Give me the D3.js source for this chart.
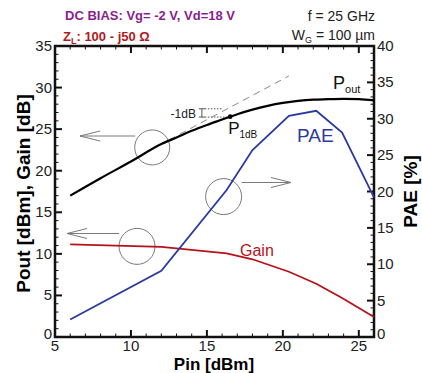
<!DOCTYPE html>
<html>
<head>
<meta charset="utf-8">
<script src="https://cdn.jsdelivr.net/npm/d3@7"></script>
<style>
  body { margin: 0; background: #fff; }
  svg { display: block; font-family: "Liberation Sans", Arial, sans-serif; }
</style>
</head>
<body>
<svg id="chart" width="422" height="373"></svg>
<script>
// Pout (smooth curve), dBm
const poutPin = [6, 8, 10, 12, 13, 14, 15, 16, 17, 18, 19, 20, 21, 22, 23, 24, 25, 26];
const poutVal = [17.0, 19.1, 21.1, 23.2, 24.0, 24.8, 25.5, 26.15, 26.8, 27.35, 27.8, 28.15, 28.4, 28.55, 28.6, 28.65, 28.6, 28.45];

// measured points for PAE and Gain
const pin = [6, 12, 16.3, 18, 20.4, 22.2, 23.9, 26];
const pae = [2.4, 9.1, 20.2, 25.7, 30.4, 31.1, 28.1, 19.2];
const gain = [11.15, 10.85, 10.05, 9.35, 7.85, 6.4, 4.7, 2.4];

// linear extrapolation (dashed) and compression point
const linPin = [12.5, 20.4];
const linPout = [23.7, 31.4];
const p1dB = { pin: 16.53, pout: 26.5 };

const xTicks = [5, 10, 15, 20, 25];
const yLeftTicks = [0, 5, 10, 15, 20, 25, 30, 35];
const yRightTicks = [0, 5, 10, 15, 20, 25, 30, 35, 40];

const svg = d3.select("#chart");
const m = { left: 55, right: 374, top: 46, bottom: 337 };

const x = d3.scaleLinear().domain([5, 26]).range([m.left, m.right]);
const yL = d3.scaleLinear().domain([0, 35]).range([m.bottom, m.top]);
const yR = d3.scaleLinear().domain([0, 40]).range([m.bottom, m.top]);

const ink = "#111";
const grey = "#7a7a7a";

// ticks drawn inward
function ticks(g, axis, scale, minorStep, major) {
    const [a, b] = scale.domain();
    const minors = d3.range(Math.ceil(a), b + 0.001, minorStep);
    g.selectAll(null).data(minors).join("line")
        .attr("stroke", ink).attr("stroke-width", 1)
        .each(function (v) {
            const isMajor = major.includes(v);
            const len = isMajor ? 7 : 3.5;
            const p = scale(v);
            const s = d3.select(this);
            if (axis === "bottom") s.attr("x1", p).attr("x2", p).attr("y1", m.bottom).attr("y2", m.bottom - len).attr("stroke-width", isMajor ? 2 : 1);
            if (axis === "top") s.attr("x1", p).attr("x2", p).attr("y1", m.top).attr("y2", m.top + len).attr("stroke-width", isMajor ? 2 : 1);
            if (axis === "left") s.attr("y1", p).attr("y2", p).attr("x1", m.left).attr("x2", m.left + len).attr("stroke-width", isMajor ? 2 : 1);
            if (axis === "right") s.attr("y1", p).attr("y2", p).attr("x1", m.right).attr("x2", m.right - len).attr("stroke-width", isMajor ? 2 : 1);
        });
}

const axG = svg.append("g");
ticks(axG, "bottom", x, 1, xTicks);
ticks(axG, "top", x, 1, xTicks);
ticks(axG, "left", yL, 1, yLeftTicks);
ticks(axG, "right", yR, 1, yRightTicks);

axG.append("rect")
    .attr("x", m.left).attr("y", m.top)
    .attr("width", m.right - m.left).attr("height", m.bottom - m.top)
    .attr("fill", "none").attr("stroke", ink).attr("stroke-width", 2.5);

// tick labels
const tickFont = 15;
axG.selectAll(null).data(xTicks).join("text")
    .attr("x", d => x(d)).attr("y", 351)
    .attr("text-anchor", "middle").attr("font-size", tickFont).attr("fill", "#222")
    .text(d => d);
axG.selectAll(null).data(yLeftTicks).join("text")
    .attr("x", 52).attr("y", d => yL(d) + (d === 0 ? 2 : 5))
    .attr("text-anchor", "end").attr("font-size", tickFont).attr("fill", "#222")
    .text(d => d);
axG.selectAll(null).data(yRightTicks).join("text")
    .attr("x", 377).attr("y", d => yR(d) + (d === 0 ? 2 : 5))
    .attr("text-anchor", "start").attr("font-size", tickFont).attr("fill", "#222")
    .text(d => d);

// axis titles
svg.append("text")
    .attr("transform", `translate(30,${(m.top + m.bottom) / 2 + 2}) rotate(-90)`)
    .attr("text-anchor", "middle").attr("font-size", 19).attr("font-weight", "bold")
    .text("Pout [dBm], Gain [dB]");
svg.append("text")
    .attr("transform", `translate(417,${(m.top + m.bottom) / 2}) rotate(-90)`)
    .attr("text-anchor", "middle").attr("font-size", 19).attr("font-weight", "bold")
    .text("PAE [%]");
svg.append("text")
    .attr("x", 214).attr("y", 370)
    .attr("text-anchor", "middle").attr("font-size", 17).attr("font-weight", "bold")
    .text("Pin [dBm]");

// header
svg.append("text").attr("x", 65).attr("y", 20)
    .attr("font-size", 13).attr("font-weight", "bold").attr("fill", "#8a1e8c")
    .text("DC BIAS: Vg= -2 V, Vd=18 V");
const zl = svg.append("text").attr("x", 63).attr("y", 41)
    .attr("font-size", 13).attr("font-weight", "bold").attr("fill", "#b01a22");
zl.append("tspan").text("Z");
zl.append("tspan").attr("font-size", 9).attr("dy", 3).text("L");
zl.append("tspan").attr("dy", -3).text(": 100 - j50 Ω");

svg.append("text").attr("x", 375).attr("y", 21)
    .attr("text-anchor", "end").attr("font-size", 14).attr("fill", "#222")
    .text("f =  25 GHz");
const wg = svg.append("text").attr("x", 375).attr("y", 40)
    .attr("text-anchor", "end").attr("font-size", 14).attr("fill", "#222");
wg.append("tspan").text("W");
wg.append("tspan").attr("font-size", 9).attr("dy", 3).text("G");
wg.append("tspan").attr("dy", -3).text(" = 100 µm");

// annotation circles and arrows
const ann = svg.append("g").attr("fill", "none").attr("stroke", grey).attr("stroke-width", 1);
function arrow(x1, x2, yy) {
    const dir = x2 < x1 ? 1 : -1;
    ann.append("line").attr("x1", x1).attr("x2", x2).attr("y1", yy).attr("y2", yy);
    ann.append("path").attr("d", `M${x2 + dir * 20},${yy - 5} L${x2},${yy} L${x2 + dir * 20},${yy + 5}`);
}
ann.append("circle").attr("cx", x(11.4)).attr("cy", yL(22.8)).attr("r", 17.5);
arrow(x(11.4) - 17, 80, 136);
ann.append("circle").attr("cx", x(16.1)).attr("cy", yR(19.3)).attr("r", 18);
arrow(x(16.1) + 18, 291, 182.5);
ann.append("circle").attr("cx", x(10.4)).attr("cy", yL(10.9)).attr("r", 18);
arrow(x(10.4) - 18, 67, 233.5);

// dashed linear extrapolation
svg.append("path")
    .datum(d3.zip(linPin, linPout))
    .attr("fill", "none").attr("stroke", "#888").attr("stroke-width", 1)
    .attr("stroke-dasharray", "7,5")
    .attr("d", d3.line().x(d => x(d[0])).y(d => yL(d[1])));

// -1dB marker
const brX = x(14.67);
const yTop = yL(27.45), yBot = yL(26.45);
const mk = svg.append("g").attr("stroke", "#555").attr("stroke-width", 1).attr("fill", "none");
mk.append("line").attr("x1", brX).attr("x2", brX).attr("y1", yTop).attr("y2", yBot);
mk.append("line").attr("x1", brX - 3).attr("x2", brX + 3).attr("y1", yTop).attr("y2", yTop);
mk.append("line").attr("x1", brX - 3).attr("x2", brX + 3).attr("y1", yBot).attr("y2", yBot);
mk.append("line").attr("x1", brX + 3).attr("x2", x(16.0)).attr("y1", yTop).attr("y2", yTop).attr("stroke-dasharray", "1.5,1.5");
mk.append("line").attr("x1", brX + 3).attr("x2", x(p1dB.pin)).attr("y1", yBot).attr("y2", yBot).attr("stroke-dasharray", "1.5,1.5");
svg.append("text").attr("x", brX - 6).attr("y", yBot + 1)
    .attr("text-anchor", "end").attr("font-size", 12).attr("fill", "#222").text("-1dB");

// data lines
const lineL = d3.line().x(d => x(d[0])).y(d => yL(d[1]));
const lineR = d3.line().x(d => x(d[0])).y(d => yR(d[1]));

svg.append("path")
    .datum(d3.zip(pin, gain))
    .attr("fill", "none").attr("stroke", "#b5121b").attr("stroke-width", 1.8)
    .attr("d", lineL);

svg.append("path")
    .datum(d3.zip(pin, pae))
    .attr("fill", "none").attr("stroke", "#2b3aa0").attr("stroke-width", 1.8)
    .attr("d", lineR);

svg.append("path")
    .datum(d3.zip(poutPin, poutVal))
    .attr("fill", "none").attr("stroke", "#000").attr("stroke-width", 2.2)
    .attr("d", lineL.curve(d3.curveMonotoneX));

svg.append("circle").attr("cx", x(p1dB.pin)).attr("cy", yL(p1dB.pout)).attr("r", 2.3).attr("fill", "#000");

// series labels
const p1 = svg.append("text").attr("x", x(p1dB.pin) - 2).attr("y", 134).attr("font-size", 17).attr("fill", "#111");
p1.append("tspan").text("P");
p1.append("tspan").attr("font-size", 10).attr("dy", 4).text("1dB");

const po = svg.append("text").attr("x", 333).attr("y", 89).attr("font-size", 18).attr("fill", "#111");
po.append("tspan").text("P");
po.append("tspan").attr("font-size", 11).attr("dy", 4).text("out");

svg.append("text").attr("x", 297).attr("y", 142).attr("font-size", 19).attr("fill", "#2b3aa0").text("PAE");
svg.append("text").attr("x", 240).attr("y", 256).attr("font-size", 16).attr("fill", "#b5121b").text("Gain");
</script>
</body>
</html>
